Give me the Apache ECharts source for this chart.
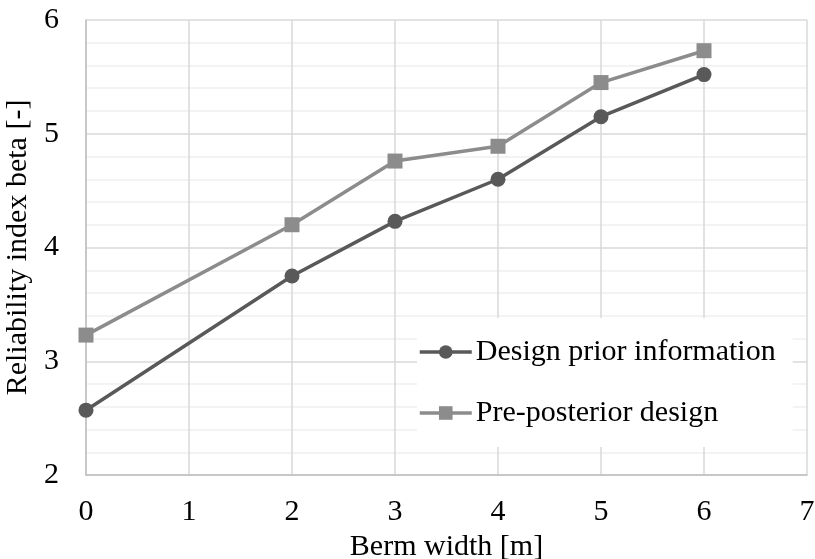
<!DOCTYPE html>
<html>
<head>
<meta charset="utf-8">
<script src="https://cdn.jsdelivr.net/npm/echarts@6/dist/echarts.min.js"></script>
<style>
html, body { margin: 0; padding: 0; background: #fff; }
#main { width: 815px; height: 559px; }
</style>
</head>
<body>
<div id="main"></div>
<script>
// data
var bermWidth = [0, 2, 3, 4, 5, 6];
var priorInfo = [2.57, 3.75, 4.23, 4.60, 5.15, 5.52];
var prePosterior = [3.23, 4.20, 4.76, 4.89, 5.45, 5.73];
var seriesNames = ['Design prior information', 'Pre-posterior design'];

function pairs(xs, ys) {
    return xs.map(function (x, i) { return [x, ys[i]]; });
}

var font = '"Liberation Serif", "Times New Roman", serif';
var myChart = echarts.init(document.getElementById('main'));

var option = {
    backgroundColor: '#fff',
    animation: false,
    grid: {
        left: 86,
        right: 8,
        top: 20,
        bottom: 84,
        containLabel: false,
        outerBoundsMode: 'none'
    },
    legend: {
        left: 417,
        top: 318,
        orient: 'vertical',
        backgroundColor: '#fff',
        padding: [19, 17, 19, 1],
        itemWidth: 52,
        itemHeight: 17,
        itemGap: 31,
        lineStyle: { width: 3.5 },
        textStyle: {
            fontFamily: font,
            fontSize: 30,
            color: '#000',
            padding: [0, 0, 0, -1]
        },
        data: seriesNames
    },
    xAxis: {
        type: 'value',
        min: 0,
        max: 7,
        interval: 1,
        name: 'Berm width [m]',
        nameLocation: 'middle',
        nameGap: 55,
        nameTextStyle: { fontFamily: font, fontSize: 30, color: '#000' },
        axisLine: { show: true, lineStyle: { color: '#bfbfbf', width: 1.5 } },
        axisTick: { show: false },
        axisLabel: { margin: 22, fontFamily: font, fontSize: 30, color: '#000' },
        splitLine: { show: true, lineStyle: { color: '#d9d9d9', width: 1.5 } }
    },
    yAxis: {
        type: 'value',
        min: 2,
        max: 6,
        interval: 1,
        name: 'Reliability index beta [-]',
        nameLocation: 'middle',
        nameGap: 50,
        nameTextStyle: { fontFamily: font, fontSize: 30, color: '#000' },
        axisLine: { show: true, lineStyle: { color: '#bfbfbf', width: 1.5 } },
        axisTick: { show: false },
        axisLabel: { margin: 27, fontFamily: font, fontSize: 30, color: '#000' },
        splitLine: { show: true, lineStyle: { color: '#d9d9d9', width: 1.5 } },
        minorTick: { show: false, splitNumber: 5 },
        minorSplitLine: { show: true, lineStyle: { color: '#f0f0f0', width: 1.5 } }
    },
    series: [
        {
            name: seriesNames[0],
            type: 'line',
            data: pairs(bermWidth, priorInfo),
            symbol: 'circle',
            symbolSize: 15,
            lineStyle: { color: '#595959', width: 3.5 },
            itemStyle: { color: '#595959' },
            z: 3
        },
        {
            name: seriesNames[1],
            type: 'line',
            data: pairs(bermWidth, prePosterior),
            symbol: 'rect',
            symbolSize: 15,
            lineStyle: { color: '#8c8c8c', width: 3.5 },
            itemStyle: { color: '#8c8c8c' },
            z: 2
        }
    ]
};

myChart.setOption(option);
</script>
</body>
</html>
